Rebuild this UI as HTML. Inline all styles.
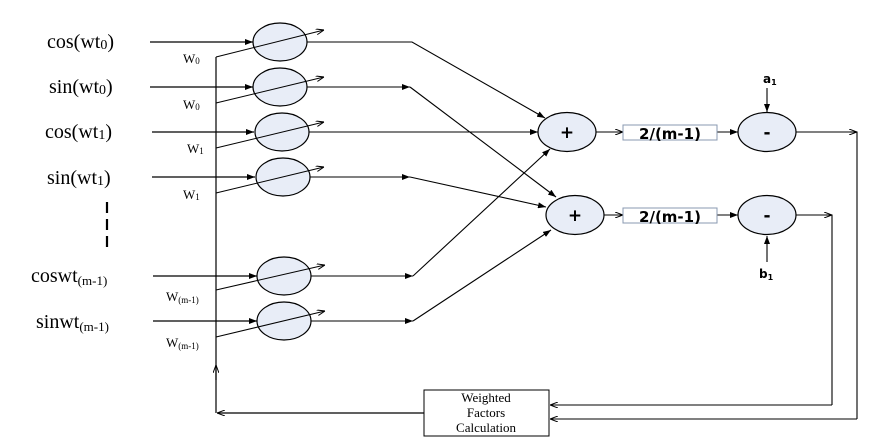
<!DOCTYPE html>
<html><head><meta charset="utf-8"><style>
html,body{margin:0;padding:0;background:#fff;}
svg{display:block;}
.s{font-family:"Liberation Serif",serif;fill:#000;}
.b{font-family:"DejaVu Sans","Liberation Sans",sans-serif;font-weight:bold;fill:#000;}
</style></head><body>
<svg width="877" height="442" viewBox="0 0 877 442" xmlns="http://www.w3.org/2000/svg">
<defs>
<marker id="a" markerWidth="8" markerHeight="6" refX="8" refY="3" orient="auto" markerUnits="userSpaceOnUse"><path d="M0,0 L8,3 L0,6 z" fill="#000"/></marker>
<marker id="o" markerWidth="8" markerHeight="6" refX="8" refY="3" orient="auto" markerUnits="userSpaceOnUse"><path d="M0,0 L8,3 L0,6" fill="none" stroke="#000" stroke-width="1"/></marker>
</defs>
<g stroke="#000" stroke-width="1.2" fill="none">
<!-- inputs -->
<line x1="150" y1="42" x2="253" y2="42" marker-end="url(#a)"/>
<line x1="150" y1="87" x2="253" y2="87" marker-end="url(#a)"/>
<line x1="152" y1="132" x2="254" y2="132" marker-end="url(#a)"/>
<line x1="152" y1="177" x2="255" y2="177" marker-end="url(#a)"/>
<line x1="153" y1="276" x2="257" y2="276" marker-end="url(#a)"/>
<line x1="153" y1="321" x2="257" y2="321" marker-end="url(#a)"/>
<!-- dashes -->
<line x1="107" y1="202" x2="107" y2="250" stroke-width="2.2" stroke-dasharray="11,6"/>
<!-- bus -->
<line x1="216" y1="57" x2="216" y2="413"/>
<line x1="216" y1="380" x2="216" y2="365" marker-end="url(#o)"/>
<line x1="424" y1="413" x2="217" y2="413" marker-end="url(#o)"/>
</g>
<g fill="#e8edf7" stroke="#000" stroke-width="1.2">
<ellipse cx="280" cy="42" rx="27" ry="19"/>
<ellipse cx="280" cy="87" rx="27" ry="19"/>
<ellipse cx="282" cy="132" rx="27" ry="19"/>
<ellipse cx="283" cy="177" rx="27" ry="19"/>
<ellipse cx="284" cy="276" rx="27" ry="19"/>
<ellipse cx="284" cy="321" rx="27" ry="19"/>
<ellipse cx="567" cy="132" rx="29" ry="19.5"/>
<ellipse cx="575" cy="215" rx="29" ry="19.5"/>
<ellipse cx="767" cy="132" rx="29" ry="19.5"/>
<ellipse cx="767" cy="215" rx="29" ry="19.5"/>
</g>
<g stroke="#000" stroke-width="1" fill="none">
<!-- weight arrows -->
<polyline points="216,57 324,30" marker-end="url(#o)"/>
<line x1="216" y1="103" x2="324" y2="77" marker-end="url(#o)"/>
<line x1="216" y1="148" x2="324" y2="122" marker-end="url(#o)"/>
<line x1="216" y1="193" x2="324" y2="167" marker-end="url(#o)"/>
<line x1="216" y1="290" x2="325" y2="265" marker-end="url(#o)"/>
<line x1="216" y1="337" x2="325" y2="311" marker-end="url(#o)"/>
</g>
<g stroke="#000" stroke-width="1.1" fill="none">
<!-- multiplier outputs -->
<polyline points="307,42 412,42 545,118" marker-end="url(#a)"/>
<line x1="307" y1="87" x2="410" y2="87" marker-end="url(#a)"/>
<line x1="410" y1="87" x2="556" y2="197" marker-end="url(#a)"/>
<line x1="309" y1="132" x2="538" y2="132" marker-end="url(#a)"/>
<line x1="310" y1="177" x2="410" y2="177" marker-end="url(#a)"/>
<line x1="410" y1="177" x2="546" y2="207" marker-end="url(#a)"/>
<line x1="311" y1="276" x2="413" y2="276" marker-end="url(#a)"/>
<line x1="413" y1="276" x2="550" y2="149" marker-end="url(#a)"/>
<line x1="311" y1="321" x2="413" y2="321" marker-end="url(#a)"/>
<line x1="413" y1="321" x2="551" y2="230" marker-end="url(#a)"/>
<!-- plus to box -->
<line x1="596" y1="132" x2="623" y2="132" marker-end="url(#o)"/>
<line x1="604" y1="215" x2="623" y2="215" marker-end="url(#o)"/>
<line x1="717" y1="132" x2="738" y2="132" marker-end="url(#a)"/>
<line x1="717" y1="215" x2="738" y2="215" marker-end="url(#a)"/>
<line x1="767" y1="88" x2="767" y2="112" marker-end="url(#a)"/>
<line x1="767" y1="262" x2="767" y2="236" marker-end="url(#a)"/>
<!-- outputs -->
<polyline points="796,132 857,132 857,419"/>
<line x1="850" y1="132" x2="857" y2="132" marker-end="url(#o)"/>
<line x1="857" y1="419" x2="550" y2="419" marker-end="url(#o)"/>
<polyline points="796,215 832,215 832,405"/>
<line x1="826" y1="215" x2="832" y2="215" marker-end="url(#o)"/>
<line x1="832" y1="405" x2="550" y2="405" marker-end="url(#o)"/>
</g>
<rect x="623" y="125" width="94" height="15" fill="#fff" stroke="#8898b0" stroke-width="1"/>
<rect x="623" y="208" width="94" height="15" fill="#fff" stroke="#8898b0" stroke-width="1"/>
<rect x="424" y="390" width="125" height="46" fill="#fff" stroke="#000" stroke-width="1"/>
<text class="b" x="670" y="139" font-size="15" text-anchor="middle">2/(m-1)</text>
<text class="b" x="670" y="222" font-size="15" text-anchor="middle">2/(m-1)</text>
<text class="b" x="567" y="138" font-size="17" text-anchor="middle">+</text>
<text class="b" x="575" y="221" font-size="17" text-anchor="middle">+</text>
<text class="b" x="767" y="138" font-size="17" text-anchor="middle">-</text>
<text class="b" x="767" y="221" font-size="17" text-anchor="middle">-</text>
<text class="b" x="763" y="83" font-size="12">a<tspan font-size="8" dy="2">1</tspan></text>
<text class="b" x="759" y="278" font-size="12">b<tspan font-size="8" dy="2">1</tspan></text>
<g class="s" font-size="13" text-anchor="middle">
<text x="486" y="402">Weighted</text>
<text x="486" y="417">Factors</text>
<text x="486" y="432">Calculation</text>
</g>
<g class="s" font-size="20">
<text x="47" y="48">cos(wt<tspan font-size="14" dy="1">0</tspan><tspan dy="-1">)</tspan></text>
<text x="49" y="93">sin(wt<tspan font-size="14" dy="1">0</tspan><tspan dy="-1">)</tspan></text>
<text x="45" y="138">cos(wt<tspan font-size="14" dy="1">1</tspan><tspan dy="-1">)</tspan></text>
<text x="47" y="184">sin(wt<tspan font-size="14" dy="1">1</tspan><tspan dy="-1">)</tspan></text>
<text x="31" y="282">coswt<tspan font-size="13" dy="3">(m-1)</tspan></text>
<text x="36" y="328">sinwt<tspan font-size="13" dy="3">(m-1)</tspan></text>
</g>
<g class="s" font-size="13">
<text x="183" y="63">W<tspan font-size="9" dy="1">0</tspan></text>
<text x="183" y="109">W<tspan font-size="9" dy="1">0</tspan></text>
<text x="187" y="153">W<tspan font-size="9" dy="1">1</tspan></text>
<text x="183" y="199">W<tspan font-size="9" dy="1">1</tspan></text>
<text x="166" y="301">W<tspan font-size="9" dy="2">(m-1)</tspan></text>
<text x="166" y="347">W<tspan font-size="9" dy="2">(m-1)</tspan></text>
</g>
</svg>
</body></html>
